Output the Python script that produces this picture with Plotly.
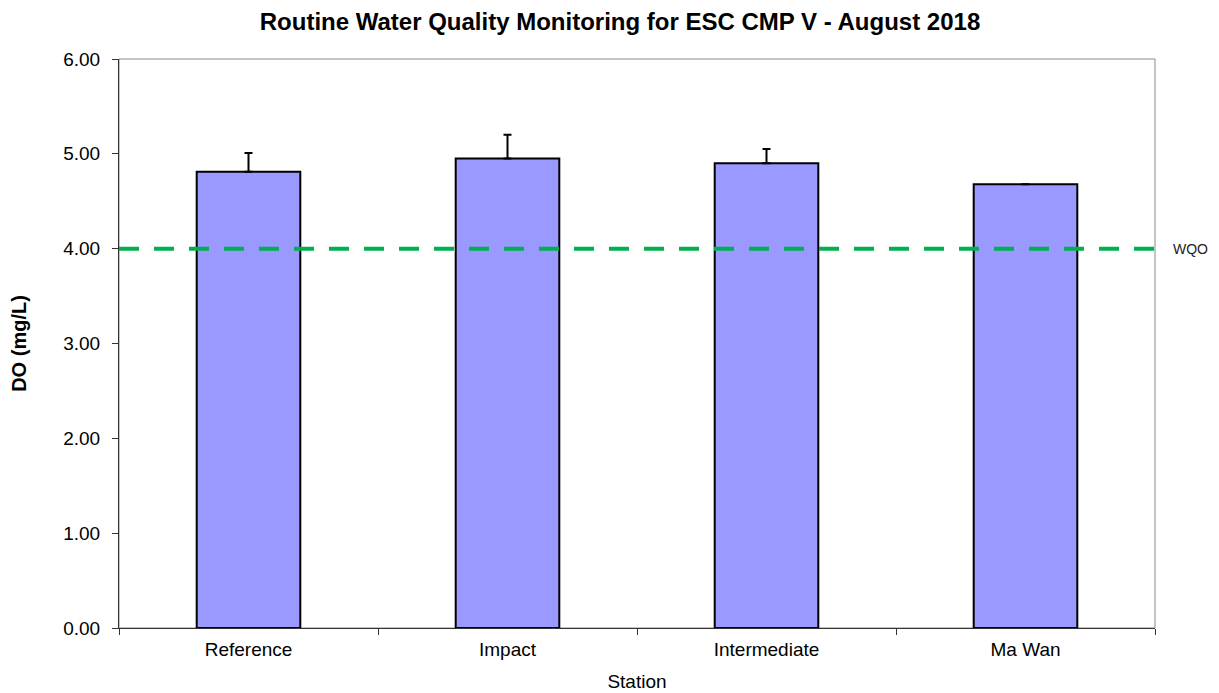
import plotly.graph_objects as go


# ==========================================================
# Data
# ==========================================================

stations = ["Reference", "Impact", "Intermediate", "Ma Wan"]
do_mean = [4.81, 4.95, 4.90, 4.68]
do_err_plus = [0.20, 0.25, 0.15, None]
wqo_value = 4.0
y_ticks = [0, 1, 2, 3, 4, 5, 6]

FONT = "Arial, Liberation Sans, sans-serif"

# page body adds an 8px offset, so the figure is 8px smaller
W, H = 1211, 685


# ==========================================================
# Figure
# ==========================================================

fig = go.Figure()

fig.add_trace(
    go.Bar(
        x=stations,
        y=do_mean,
        marker=dict(
            color="#9999FF",
            line=dict(color="black", width=2)
        ),
        error_y=dict(
            type="data",
            symmetric=False,
            array=do_err_plus,
            arrayminus=[0] * len(do_err_plus),
            color="black",
            thickness=2,
            width=4
        ),
        showlegend=False
    )
)

# WQO dashed line
fig.add_shape(
    type="line",
    xref="paper",
    yref="y",
    x0=0,
    x1=1.008,
    y0=wqo_value,
    y1=wqo_value,
    line=dict(color="#00B050", width=4, dash="20px,15px"),
    layer="above"
)

fig.add_annotation(
    text="WQO",
    xref="paper",
    yref="y",
    x=1.015,
    y=wqo_value,
    xanchor="left",
    yanchor="middle",
    showarrow=False,
    font=dict(family=FONT, size=14, color="#222")
)

fig.update_layout(
    width=W,
    height=H,
    paper_bgcolor="white",
    plot_bgcolor="white",
    font=dict(family=FONT, size=19, color="black"),
    margin=dict(l=111, r=64, t=51, b=65),
    bargap=0.6,
    title=dict(
        text="<b>Routine Water Quality Monitoring for ESC CMP V - August 2018</b>",
        x=(620 - 8) / W,
        xanchor="center",
        y=1 - (22 - 8) / H,
        yanchor="middle",
        font=dict(family=FONT, size=24, color="black")
    ),
    xaxis=dict(
        title=dict(text="Station", font=dict(size=19), standoff=15),
        automargin=False,
        showline=True,
        linecolor="#333",
        linewidth=1,
        ticks="outside",
        tickson="boundaries",
        ticklen=6,
        tickcolor="#333",
        ticklabelstandoff=4,
        showgrid=False,
        tickfont=dict(size=19)
    ),
    yaxis=dict(
        title=dict(text="<b>DO (mg/L)</b>", font=dict(size=20), standoff=31),
        automargin=False,
        range=[0, 6],
        tickvals=y_ticks,
        tickformat=".2f",
        showline=True,
        linecolor="#333",
        linewidth=1,
        ticks="outside",
        ticklen=6,
        tickcolor="#333",
        ticklabelstandoff=8,
        showgrid=False,
        zeroline=False,
        tickfont=dict(size=19)
    )
)

# gray frame on top and right
fig.add_shape(
    type="rect",
    xref="paper",
    yref="paper",
    x0=0,
    x1=1,
    y0=0,
    y1=1,
    line=dict(color="#888", width=1),
    layer="below"
)

fig.write_html("out.html")
